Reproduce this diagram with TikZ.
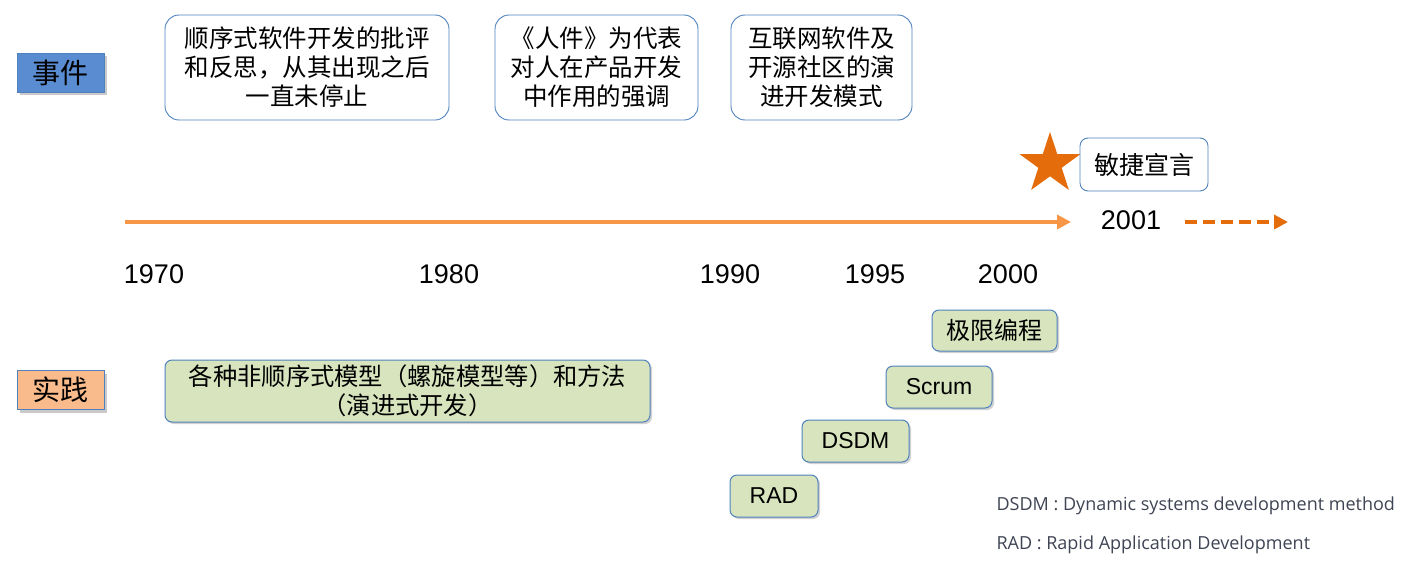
\documentclass[tikz,border=0pt]{standalone}
\usepackage{fontspec}
\setmainfont{Liberation Sans}
\newfontfamily\cjk{Noto Sans CJK SC}
\newfontfamily\notefont{Open Sans}
\usetikzlibrary{shapes.geometric,arrows.meta,shadows}
\definecolor{evblue}{HTML}{5A8CD2}
\definecolor{bordblue}{HTML}{4F81BD}
\definecolor{prorange}{HTML}{F9BA8C}
\definecolor{boxgreen}{HTML}{D7E4BD}
\definecolor{axisorange}{HTML}{F79646}
\definecolor{starorange}{HTML}{E46C0A}
\definecolor{notegray}{HTML}{3E4453}
\tikzset{
  sideLabel/.style={draw=bordblue, line width=0.8pt, minimum width=87, minimum height=39, inner sep=0pt,
    font=\cjk\fontsize{28}{32}\selectfont, drop shadow={shadow xshift=3pt, shadow yshift=-3pt, opacity=0.35, fill=black!60}},
  eventBox/.style={draw=bordblue, line width=0.9pt, fill=white, rounded corners=14pt, inner sep=0pt,
    align=center, font=\cjk\fontsize{24.5}{29}\selectfont},
  practiceBox/.style={draw=bordblue, line width=1pt, fill=boxgreen, rounded corners=7pt, inner sep=0pt,
    align=center, font=\cjk\fontsize{24.3}{29}\selectfont, drop shadow={shadow xshift=2pt, shadow yshift=-2pt, opacity=0.3, fill=black!60}},
  yearLabel/.style={font=\fontsize{27}{30}\selectfont, anchor=center},
  noteText/.style={font=\notefont\fontsize{18}{22}\selectfont, text=notegray, anchor=west},
}
\begin{document}
\begin{tikzpicture}[x=1pt,y=-1pt]
\useasboundingbox (0,0) rectangle (1416,565);

% side labels
\node[sideLabel, fill=evblue] (ev) at (60.5,72.5) {事件};
\node[sideLabel, fill=prorange] (pr) at (60.5,390) {实践};

% event boxes
\node[eventBox, minimum width=284, minimum height=105] (e1) at (307,67.5) {顺序式软件开发的批评\\和反思，从其出现之后\\一直未停止};
\node[eventBox, minimum width=203, minimum height=105] (e2) at (596.5,67.5) {《人件》为代表\\对人在产品开发\\中作用的强调};
\node[eventBox, minimum width=181, minimum height=105] (e3) at (821.5,67.5) {互联网软件及\\开源社区的演\\进开发模式};

% star and manifesto
\node[star, star points=5, star point ratio=2.6, fill=starorange, minimum size=64, inner sep=0pt] (st) at (1050,164) {};
\node[eventBox, rounded corners=8pt, minimum width=128, minimum height=53, font=\cjk\fontsize{25}{29}\selectfont] (am) at (1144,164.5) {敏捷宣言};

% timeline
\coordinate (tl0) at (125,222);
\coordinate (tl1) at (1071,222);
\draw[axisorange, line width=4.5pt, -{Triangle[length=14pt,width=14pt]}] (tl0) -- (tl1);
\node[yearLabel] (y2001) at (1131,220) {2001};
\coordinate (da0) at (1185,222);
\coordinate (da1) at (1288,222);
\draw[starorange, line width=4.5pt, dash pattern=on 12pt off 6pt, -{Triangle[length=14pt,width=14pt]}] (da0) -- (da1);

% year labels
\node[yearLabel] (y1970) at (154,274) {1970};
\node[yearLabel] (y1980) at (449,274) {1980};
\node[yearLabel] (y1990) at (730,274) {1990};
\node[yearLabel] (y1995) at (875,274) {1995};
\node[yearLabel] (y2000) at (1008,274) {2000};

% practice boxes
\node[practiceBox, minimum width=485, minimum height=62] (p0) at (407.5,391) {各种非顺序式模型（螺旋模型等）和方法\\（演进式开发）};
\node[practiceBox, minimum width=125, minimum height=41, font=\cjk\fontsize{24}{28}\selectfont] (xp) at (994.5,330.5) {极限编程};
\node[practiceBox, minimum width=106, minimum height=42, font=\fontsize{23}{28}\selectfont] (scrum) at (939,387) {Scrum};
\node[practiceBox, minimum width=107, minimum height=42, font=\fontsize{23}{28}\selectfont] (dsdm) at (855.5,441) {DSDM};
\node[practiceBox, minimum width=88, minimum height=42, font=\fontsize{23}{28}\selectfont] (rad) at (774,496) {RAD};

% notes
\node[noteText] (n1) at (993,506) {DSDM : Dynamic systems development method};
\node[noteText] (n2) at (993,545) {RAD : Rapid Application Development};
\end{tikzpicture}
\end{document}
